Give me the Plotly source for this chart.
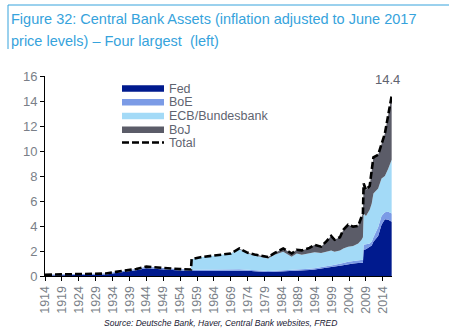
import plotly.graph_objects as go

# ---- data (trillions USD, June-2017 prices) ----
years = [1914, 1919, 1924, 1929, 1932, 1935, 1938, 1941, 1944, 1946, 1950, 1954,
         1957.2, 1957.4, 1960, 1963, 1966, 1969, 1971.5, 1974, 1976, 1978, 1980,
         1982, 1984.5, 1987, 1988.5, 1990, 1992.3, 1993.8, 1995.7, 1997.2, 1998.7,
         1999.7, 2001.3, 2002.3, 2003.7, 2005.2, 2006.7, 2007.7, 2008.1, 2008.3,
         2009, 2010.1, 2010.7, 2011.2, 2012.6, 2013.6, 2014.6, 2015.6, 2016.6]
fed = [.04, .06, .05, .07, .12, .24, .34, .46, .63, .58, .48, .44,
       .40, .40, .42, .43, .44, .45, .46, .42, .38, .35, .33,
       .35, .37, .40, .42, .46, .48, .52, .58, .66, .72,
       .76, .82, .88, .95, 1.00, 1.05, 1.07, 1.07, 2.10,
       2.15, 2.35, 2.45, 2.75, 3.20, 4.10, 4.55, 4.50, 4.35]
boe = [.06, .06, .06, .07, .08, .09, .09, .10, .12, .12, .12, .11,
       .12, .10, .08, .09, .08, .08, .09, .08, .07, .07, .07,
       .07, .08, .07, .08, .09, .10, .10, .10, .12, .13,
       .14, .13, .17, .20, .20, .20, .23, .23, .40,
       .40, .25, .30, .35, .70, .70, .55, .65, .65]
ecb = [0, 0, 0, 0, 0, 0, 0, 0, 0, 0, 0, 0,
       0, .85, 1.00, 1.10, 1.20, 1.27, 1.60, 1.30, 1.20, 1.13, 1.00,
       1.28, 1.50, 1.08, 1.30, 1.15, 1.22, 1.28, 1.17, 1.17, 1.20,
       1.05, 1.10, 1.15, 1.20, 1.20, 1.35, 1.60, 1.80, 2.50,
       2.25, 2.70, 3.05, 3.50, 3.10, 3.00, 2.90, 3.45, 4.30]
boj = [0, 0, 0, 0, 0, 0, 0, 0, 0, 0, 0, 0,
       0, 0, 0, 0, 0, 0, .05, .05, .07, .10, .12,
       .15, .25, .25, .30, .35, .45, .60, .50, .80, 1.15,
       .95, 1.05, 1.50, 1.75, 1.55, 1.40, 1.85, 1.90, 2.40,
       2.10, 1.90, 2.70, 2.90, 2.70, 2.70, 3.40, 4.30, 5.10]
total = [round(a + b + c + d, 3) for a, b, c, d in zip(fed, boe, ecb, boj)]

tick_years = list(range(1914, 2015, 5))
tick_labels = [str(y) for y in tick_years]
series_names = ["Fed", "BoE", "ECB/Bundesbank", "BoJ"]
series_colors = ["#001a8e", "#7b9be6", "#a3daf7", "#5b5c68"]
last_label = "14.4"

# ---- layout geometry ----
W, H = 459, 336
L, R, T, B = 45, 67, 76, 60
PW, PH = W - L - R, H - T - B


def px(x):
    return (x - L) / PW


def py(y):
    return (H - B - y) / PH


fig = go.Figure()
for name, vals, col in zip(series_names, [fed, boe, ecb, boj], series_colors):
    fig.add_trace(go.Scatter(x=years, y=vals, name=name, stackgroup="one",
                             mode="lines", line=dict(width=0, color=col),
                             fillcolor=col, showlegend=False, hoverinfo="skip"))
fig.add_trace(go.Scatter(x=years, y=total, name="Total", mode="lines",
                         line=dict(color="black", width=2.6, dash="7px,3px"),
                         showlegend=False))

fig.add_annotation(x=years[-1], y=total[-1], text=last_label, showarrow=False,
                   xanchor="center", yanchor="bottom", xshift=-4, yshift=7,
                   font=dict(size=13, color="#5f6470", family="Arial"))

shapes = []
anns = []
BLUE = "#36a3dc"
# title frame
shapes.append(dict(type="line", xref="paper", yref="paper", x0=px(8), x1=px(449),
                   y0=py(5), y1=py(5), line=dict(color=BLUE, width=1)))
shapes.append(dict(type="line", xref="paper", yref="paper", x0=px(8), x1=px(8),
                   y0=py(5), y1=py(49), line=dict(color=BLUE, width=1)))
anns.append(dict(xref="paper", yref="paper", x=px(9), y=py(19), xanchor="left",
                 yanchor="middle", showarrow=False,
                 text="Figure 32: Central Bank Assets (inflation adjusted to June 2017",
                 font=dict(size=14.5, color=BLUE, family="Arial")))
anns.append(dict(xref="paper", yref="paper", x=px(9), y=py(41), xanchor="left",
                 yanchor="middle", showarrow=False,
                 text="price levels) \u2013 Four largest  (left)",
                 font=dict(size=14.5, color=BLUE, family="Arial")))
# legend (drawn manually)
row_y = [88.5, 102.3, 116, 129.7, 142.5]
for i, (name, col) in enumerate(zip(series_names, series_colors)):
    shapes.append(dict(type="rect", xref="paper", yref="paper", x0=px(122), x1=px(164),
                       y0=py(row_y[i] - 3.2), y1=py(row_y[i] + 3.2),
                       fillcolor=col, line=dict(width=0)))
shapes.append(dict(type="line", xref="paper", yref="paper", x0=px(122), x1=px(164),
                   y0=py(row_y[4]), y1=py(row_y[4]),
                   line=dict(color="black", width=2.6, dash="7px,3px")))
for i, name in enumerate(series_names + ["Total"]):
    anns.append(dict(xref="paper", yref="paper", x=px(167), y=py(row_y[i]),
                     xanchor="left", yanchor="middle", showarrow=False, text=name,
                     font=dict(size=12.5, color="#5f6470", family="Arial")))
# source
anns.append(dict(xref="paper", yref="paper", x=px(220), y=py(323), xanchor="center",
                 yanchor="middle", showarrow=False,
                 text="<i>Source: Deutsche Bank, Haver, Central Bank websites, FRED</i>",
                 font=dict(size=8.5, color="#1a1a33", family="Arial")))

fig.update_layout(
    width=W, height=H, margin=dict(l=L, r=R, t=T, b=B),
    paper_bgcolor="white", plot_bgcolor="white",
    shapes=shapes, annotations=list(fig.layout.annotations) + anns,
    font=dict(family="Arial", color="#7a7f88"),
    xaxis=dict(range=[1914, 2016.7], tickmode="array", tickvals=tick_years,
               ticktext=tick_labels, tickangle=-90, ticks="outside", ticklen=4,
               tickcolor="black", showline=True, linecolor="black", linewidth=1,
               showgrid=False, zeroline=False,
               tickfont=dict(size=12.5, color="#7a7f88", family="Arial")),
    yaxis=dict(range=[0, 16], dtick=2, ticks="outside", ticklen=4, tickcolor="black",
               showline=True, linecolor="black", linewidth=1, showgrid=False,
               zeroline=False, tickfont=dict(size=13, color="#7a7f88", family="Arial")),
)

fig.write_html("out.html")
